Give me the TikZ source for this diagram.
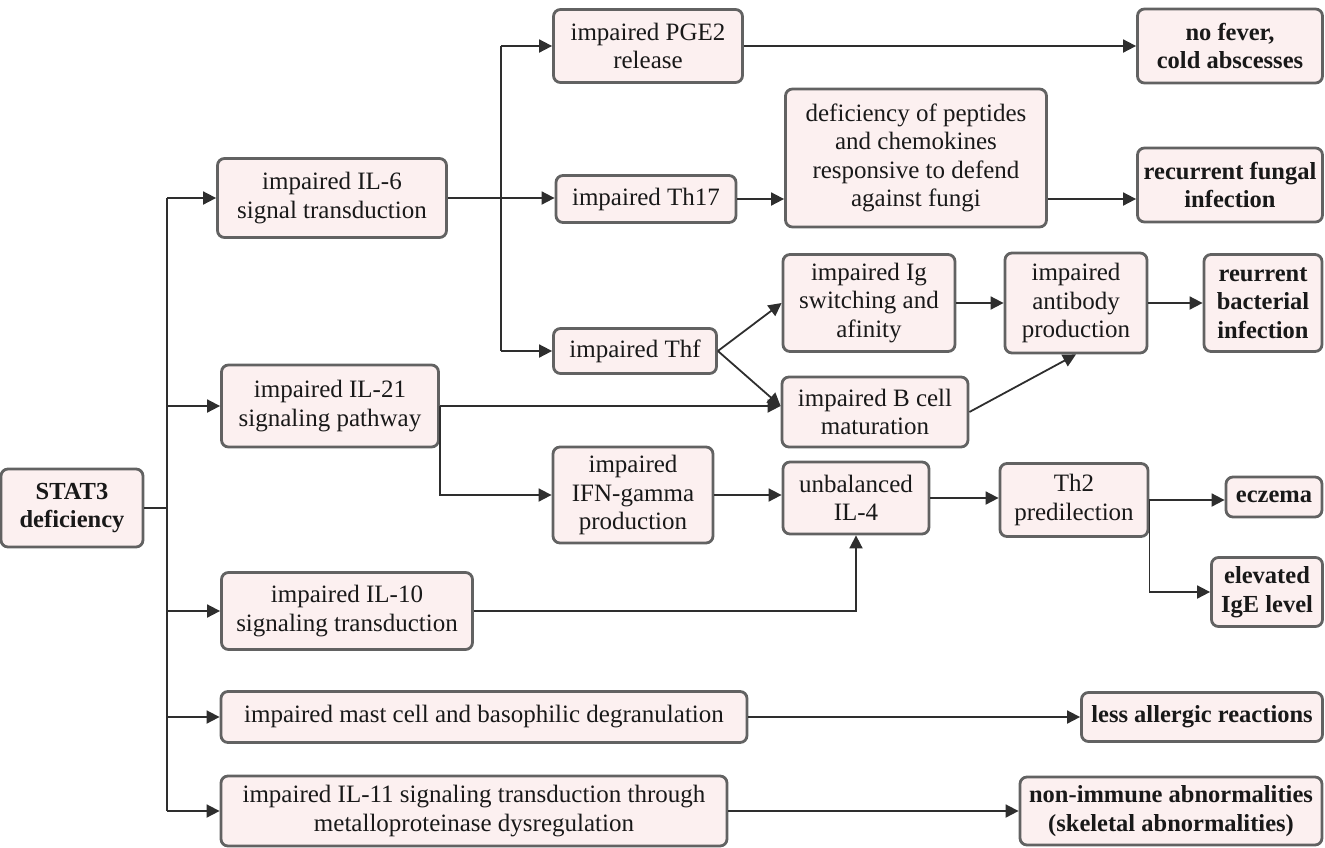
\documentclass[tikz,border=0pt]{standalone}
\usepackage{fontspec}
\setmainfont{Liberation Serif}
\usetikzlibrary{arrows.meta}
\definecolor{boxfill}{HTML}{FCF0F0}
\definecolor{boxline}{HTML}{626262}
\definecolor{arrcol}{HTML}{2E2E2E}
\tikzset{
  box/.style={draw=boxline, fill=boxfill, line width=2.8pt, rounded corners=7pt, align=center, inner sep=0pt, text=black!90, font=\fontsize{25}{28.5}\selectfont},
  bbox/.style={box, font=\fontsize{24.5}{28.5}\selectfont\bfseries},
  arr/.style={draw=arrcol, line width=1.8pt, -{Triangle[length=13pt,width=13pt]}},
  ln/.style={draw=arrcol, line width=1.8pt},
}
\begin{document}
\begin{tikzpicture}[x=1pt,y=-1pt]
\useasboundingbox (0,0) rectangle (1325,847);
% column 1
\node[bbox, minimum width=142pt, minimum height=78pt] (stat) at (72,508) {STAT3\\deficiency};
% column 2
\node[box, minimum width=229pt, minimum height=79pt] (il6) at (332,198) {impaired IL-6\\signal transduction};
\node[box, minimum width=217pt, minimum height=82pt] (il21) at (330,406) {impaired IL-21\\signaling pathway};
\node[box, minimum width=251pt, minimum height=77pt] (il10) at (347,611) {impaired IL-10\\signaling transduction};
\node[box, minimum width=526pt, minimum height=51pt] (mast) at (484,717) {impaired mast cell and basophilic degranulation};
\node[box, minimum width=506pt, minimum height=70pt] (il11) at (474,811) {impaired IL-11 signaling transduction through\\metalloproteinase dysregulation};
% column 3
\node[box, minimum width=189pt, minimum height=73pt] (pge) at (648,46) {impaired PGE2\\release};
\node[box, minimum width=180pt, minimum height=47pt] (th17) at (646,199) {impaired Th17};
\node[box, minimum width=163pt, minimum height=45pt] (thf) at (635,351) {impaired Thf};
\node[box, minimum width=160pt, minimum height=96pt] (ifn) at (633,495) {impaired\\IFN-gamma\\production};
% column 4
\node[box, minimum width=261pt, minimum height=138pt] (def) at (916,158) {deficiency of peptides\\and chemokines\\responsive to defend\\against fungi};
\node[box, minimum width=172pt, minimum height=97pt] (ig) at (869,303) {impaired Ig\\switching and\\afinity};
\node[box, minimum width=186pt, minimum height=70pt] (bcell) at (875,412) {impaired B cell\\maturation};
\node[box, minimum width=146pt, minimum height=72pt] (il4) at (856,498) {unbalanced\\IL-4};
% column 5
\node[box, minimum width=142pt, minimum height=100pt] (ab) at (1076,303) {impaired\\antibody\\production};
\node[box, minimum width=148pt, minimum height=73pt] (th2) at (1074,500) {Th2\\predilection};
% outcomes
\node[bbox, minimum width=185pt, minimum height=74pt] (nofever) at (1230,46) {no fever,\\cold abscesses};
\node[bbox, minimum width=185pt, minimum height=74pt] (fung) at (1230,185) {recurrent fungal\\infection};
\node[bbox, minimum width=118pt, minimum height=97pt] (bac) at (1263,303) {reurrent\\bacterial\\infection};
\node[bbox, minimum width=96pt, minimum height=40pt] (ecz) at (1274,497) {eczema};
\node[bbox, minimum width=111pt, minimum height=69pt] (ige) at (1267,592) {elevated\\IgE level};
\node[bbox, minimum width=241pt, minimum height=49pt] (allerg) at (1202,717) {less allergic reactions};
\node[bbox, minimum width=302pt, minimum height=68pt] (nonimm) at (1171,811) {non-immune abnormalities\\(skeletal abnormalities)};
% trunk
\coordinate (tx) at (167,0);
\draw[ln] (stat.east) -- (stat.east -| tx);
\draw[ln] (il6.west -| tx) -- (il11.west -| tx);
\draw[arr] (il6.west -| tx) -- (il6.west);
\draw[arr] (il21.west -| tx) -- (il21.west);
\draw[arr] (il10.west -| tx) -- (il10.west);
\draw[arr] (mast.west -| tx) -- (mast.west);
\draw[arr] (il11.west -| tx) -- (il11.west);
% IL-6 split
\coordinate (sx) at (501,0);
\draw[ln] (pge.west -| sx) -- (thf.west -| sx);
\draw[arr] (pge.west -| sx) -- (pge.west);
\draw[arr] (il6.east) -- (th17.west |- il6.east);
\draw[arr] (thf.west -| sx) -- (thf.west);
% PGE2 / Th17
\draw[arr] (pge.east) -- (nofever.west);
\draw[arr] (th17.east) -- (def.west |- th17.east);
\draw[arr] (def.east |- th17.east) -- (fung.west |- th17.east);
% Thf
\draw[arr] (thf.east) -- (ig.west);
\draw[arr] (thf.east) -- (bcell.west |- il21.east);
\draw[arr] (il21.east) -- (bcell.west |- il21.east);
\draw[arr] (ig.east) -- (ab.west);
\draw[arr] (bcell.east) -- (ab.south);
\draw[arr] (ab.east) -- (bac.west);
% IL-21 to IFN
\draw[arr] (il21.east) |- (ifn.west);
\draw[arr] (ifn.east) -- (il4.west |- ifn.east);
\draw[arr] (il4.east) -- (th2.west |- il4.east);
\draw[arr] (il10.east) -| (il4.south);
\draw[arr] (th2.east) -- (ecz.west |- th2.east);
\draw[arr] (th2.east) |- (ige.west);
% bottom rows
\draw[arr] (mast.east) -- (allerg.west |- mast.east);
\draw[arr] (il11.east) -- (nonimm.west |- il11.east);
\end{tikzpicture}
\end{document}
